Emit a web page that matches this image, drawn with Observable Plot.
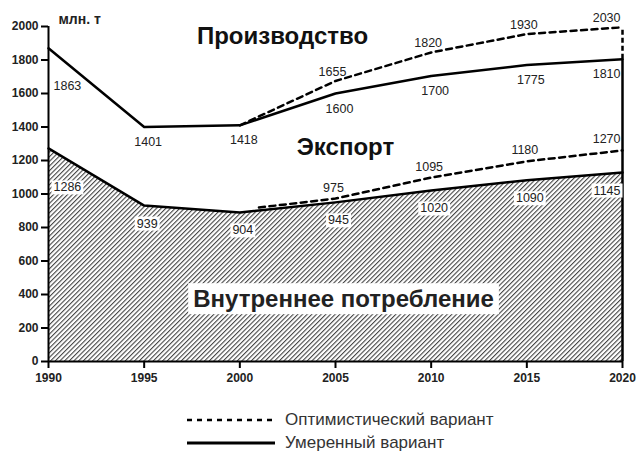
<!DOCTYPE html>
<html>
<head>
<meta charset="utf-8">
<script src="https://cdn.jsdelivr.net/npm/d3@7"></script>
<script src="https://cdn.jsdelivr.net/npm/@observablehq/plot@0.6"></script>
<style>
  body { margin: 0; background: white; font-family: "Liberation Sans", Arial, sans-serif; }
  #wrap { position: relative; width: 636px; height: 453px; overflow: hidden; }
  #legend { position: absolute; left: 187px; top: 408px; color: #333; font-size: 17px; line-height: 19px; }
  .row { display: flex; align-items: center; height: 23px; }
  .row svg { margin-right: 10px; }
</style>
</head>
<body>
<div id="wrap"><div id="chart"></div>
<div id="legend"></div></div>
<script>
// ---- data ----
const years = [1990, 1995, 2000, 2005, 2010, 2015, 2020];
const prodModerate = [1870, 1400, 1410, 1600, 1705, 1770, 1805];
const prodModerateLabels = ["1863", "1401", "1418", "1600", "1700", "1775", "1810"];
const prodOptYears = [2000, 2005, 2010, 2015, 2020];
const prodOptimistic = [1410, 1675, 1845, 1955, 1995];
const prodOptLabels = [null, "1655", "1820", "1930", "2030"];
const consModerate = [1272, 931, 890, 950, 1021, 1082, 1128];
const consModerateLabels = ["1286", "939", "904", "945", "1020", "1090", "1145"];
const consOptYears = [2001, 2005, 2010, 2015, 2020];
const consOptimistic = [919, 973, 1098, 1195, 1260];
const consOptLabels = [null, "975", "1095", "1180", "1270"];
const xTicks = [1990, 1995, 2000, 2005, 2010, 2015, 2020];
const yTicks = [0, 200, 400, 600, 800, 1000, 1200, 1400, 1600, 1800, 2000];
const unitLabel = "млн. т";
const titles = {prod: "Производство", exp: "Экспорт", cons: "Внутреннее потребление"};
const legendItems = [{label: "Оптимистический вариант", dash: true}, {label: "Умеренный вариант", dash: false}];

const rows = (xs, ys, ts) => xs.map((x, i) => ({x, y: ys[i], t: ts ? ts[i] : null, i}));
const prodMod = rows(years, prodModerate, prodModerateLabels);
const prodOpt = rows(prodOptYears, prodOptimistic, prodOptLabels);
const consMod = rows(years, consModerate, consModerateLabels);
const consOpt = rows(consOptYears, consOptimistic, consOptLabels);

const DASH = "6,4.5";
const LW = 2.5;
const lblFont = {fontSize: 12.5, fill: "#222"};

function labelMarks(data, dy, firstDy, dx, cls) {
  const d = data.filter(r => r.t != null);
  const n = data.length - 1;
  const first = d.filter(r => r.i === 0);
  const mid = d.filter(r => r.i > 0 && r.i < n);
  const last = d.filter(r => r.i === n);
  return [
    Plot.text(first, {x: "x", y: "y", text: "t", textAnchor: "start", dx: 5, dy: firstDy, className: cls, ...lblFont}),
    Plot.text(mid, {x: "x", y: "y", text: "t", dx: dx, dy: dy, className: cls, ...lblFont}),
    Plot.text(last, {x: "x", y: "y", text: "t", textAnchor: "end", dx: -2, dy: dy, className: cls, ...lblFont})
  ];
}

const chart = Plot.plot({
  width: 636,
  height: 400,
  marginLeft: 48,
  marginRight: 14,
  marginTop: 26,
  marginBottom: 39,
  style: {fontFamily: "'Liberation Sans', Arial, sans-serif", background: "white", overflow: "visible"},
  x: {domain: [1990, 2020]},
  y: {domain: [0, 2000]},
  marks: [
    Plot.areaY(consMod, {x: "x", y: "y", fill: "url(#hatch)"}),
    Plot.line(consMod, {x: "x", y: "y", stroke: "black", strokeWidth: LW}),
    Plot.line(consOpt, {x: "x", y: "y", stroke: "black", strokeWidth: LW, strokeDasharray: DASH}),
    Plot.line(prodMod, {x: "x", y: "y", stroke: "black", strokeWidth: LW}),
    Plot.line(prodOpt, {x: "x", y: "y", stroke: "black", strokeWidth: LW, strokeDasharray: DASH}),
    Plot.ruleX([2020], {y1: 0, y2: prodModerate[prodModerate.length - 1], stroke: "black", strokeWidth: LW}),
    Plot.ruleX([2020], {y1: prodModerate[prodModerate.length - 1], y2: prodOptimistic[prodOptimistic.length - 1], stroke: "black", strokeWidth: LW, strokeDasharray: "5,3"}),
    Plot.ruleY([0], {stroke: "black", strokeWidth: 2}),
    Plot.ruleX([1990], {stroke: "black", strokeWidth: 2}),
    Plot.axisX({ticks: xTicks, label: null, tickFormat: d => String(d), tickSize: 7, tickPadding: 5, strokeWidth: 2, fontWeight: "bold", fontSize: 12, fill: "#222"}),
    Plot.axisY({ticks: yTicks, label: null, tickFormat: d => String(d), tickSize: 7, tickPadding: 3, strokeWidth: 2, fontWeight: "bold", fontSize: 12, fill: "#222"}),
    Plot.text([unitLabel], {frameAnchor: "top-left", dx: 10, dy: -12, fontWeight: "bold", fontSize: 14, fill: "#222", text: d => d, textAnchor: "start"}),
    ...labelMarks(prodMod, 15, 38, 4, "plainlbl"),
    ...labelMarks(prodOpt, -9, -9, -3, "plainlbl"),
    ...labelMarks(consMod, 18, 39, 3, "boxedlbl"),
    ...labelMarks(consOpt, -11, -11, -2, "plainlbl"),
    Plot.text([titles.prod], {x: 2002.23, y: 1940, text: d => d, fontSize: 24, fontWeight: "bold", fill: "#111"}),
    Plot.text([titles.exp], {x: 2005.52, y: 1278, text: d => d, fontSize: 24, fontWeight: "bold", fill: "#111"}),
    Plot.text([titles.cons], {x: 2005.42, y: 370, text: d => d, fontSize: 24, fontWeight: "bold", fill: "#222", className: "bigboxlbl"})
  ]
});

document.getElementById("chart").appendChild(chart);

// hatch pattern
const svg = d3.select(chart);
const defs = svg.insert("defs", ":first-child");
const pat = defs.append("pattern").attr("id", "hatch").attr("patternUnits", "userSpaceOnUse")
  .attr("width", 3.3).attr("height", 3.3).attr("patternTransform", "rotate(45)");
pat.append("rect").attr("width", 3.3).attr("height", 3.3).attr("fill", "white");
pat.append("line").attr("x1", 0.6).attr("y1", 0).attr("x2", 0.6).attr("y2", 3.3)
  .attr("stroke", "#1a1a1a").attr("stroke-width", 0.9);

// white boxes behind labels
function boxify(cls, px, py) {
  const nodes = chart.querySelectorAll(`.${cls} text, text.${cls}`);
  nodes.forEach(t => {
    const b = t.getBBox();
    const r = document.createElementNS("http://www.w3.org/2000/svg", "rect");
    r.setAttribute("x", b.x - px);
    r.setAttribute("y", b.y - py);
    r.setAttribute("width", b.width + 2 * px);
    r.setAttribute("height", b.height + 2 * py);
    r.setAttribute("fill", "white");
    const tr = t.getAttribute("transform");
    if (tr) r.setAttribute("transform", tr);
    t.parentNode.insertBefore(r, t);
  });
}
boxify("boxedlbl", 2, 0);
boxify("bigboxlbl", 5, 2);

// legend
const leg = d3.select("#legend");
legendItems.forEach(it => {
  const row = leg.append("div").attr("class", "row");
  const s = row.append("svg").attr("width", 88).attr("height", 12);
  s.append("line").attr("x1", 0).attr("x2", 88).attr("y1", 6).attr("y2", 6)
    .attr("stroke", "black").attr("stroke-width", it.dash ? 2.5 : 3)
    .attr("stroke-dasharray", it.dash ? "5,5" : null);
  row.append("span").text(it.label);
});
</script>
</body>
</html>
